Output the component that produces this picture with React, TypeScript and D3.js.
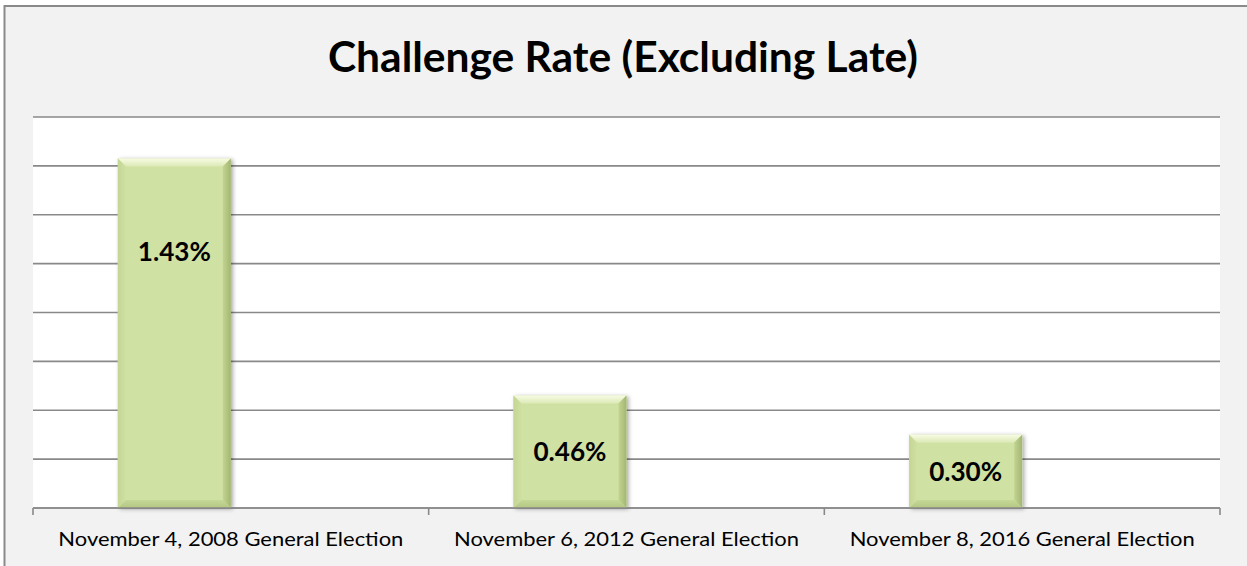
import React, { useEffect } from "react";
import * as d3 from "d3";

// Chart data
const categories = [
  "November 4, 2008 General Election",
  "November 6, 2012 General Election",
  "November 8, 2016 General Election",
];
const rates = [0.0143, 0.0046, 0.003];
const rateLabels = ["1.43%", "0.46%", "0.30%"];
// Excel keeps an empty second series slot, so bars sit left of centre
const seriesSlots = ["rate", "empty"];
const yMax = 0.016;

const W = 1247;
const H = 566;
const plot = { left: 33, right: 1220, top: 117, bottom: 508 };
const GRID = "#898989";
const BEVEL = 8;

export default function App() {
  useEffect(() => {
    document.body.style.margin = "0";
  }, []);

  const x = d3
    .scaleBand<string>()
    .domain(categories)
    .range([plot.left, plot.right])
    .padding(0);

  const slot = d3
    .scaleBand<string>()
    .domain(seriesSlots)
    .range([0, x.bandwidth()])
    .paddingInner(0)
    .paddingOuter(0.75);

  const y = d3.scaleLinear().domain([0, yMax]).range([plot.bottom, plot.top]);
  const gridTicks = y.ticks(8);
  const boundaries = [...categories.map((c) => x(c)!), plot.right];

  const bw = slot.bandwidth();

  return (
    <svg
      width={W}
      height={H}
      style={{ display: "block", fontFamily: "Lato, 'Open Sans', sans-serif" }}
    >
      <defs>
        <linearGradient id="topBevel" x1="0" y1="0" x2="0" y2="1">
          <stop offset="0" stopColor="#f7fbe4" />
          <stop offset="1" stopColor="#dbe9b4" />
        </linearGradient>
        <linearGradient id="rightBevel" x1="0" y1="0" x2="1" y2="0">
          <stop offset="0" stopColor="#c3d490" />
          <stop offset="1" stopColor="#a2b673" />
        </linearGradient>
        <linearGradient id="bottomBevel" x1="0" y1="0" x2="0" y2="1">
          <stop offset="0" stopColor="#c6d796" />
          <stop offset="1" stopColor="#b3c783" />
        </linearGradient>
        <linearGradient id="leftBevel" x1="0" y1="0" x2="1" y2="0">
          <stop offset="0" stopColor="#c4d694" />
          <stop offset="1" stopColor="#cfe0a2" />
        </linearGradient>
        <filter id="shadow" x="-20%" y="-20%" width="140%" height="140%">
          <feDropShadow dx="2" dy="1" stdDeviation="2" floodColor="#000" floodOpacity="0.35" />
        </filter>
      </defs>

      {/* chart area */}
      <rect x={0} y={0} width={W} height={H} fill="#ffffff" />
      <rect
        x={4.5}
        y={6}
        width={W + 20}
        height={H + 20}
        fill="#f2f2f2"
        stroke="#8a8a8a"
        strokeWidth={2}
      />

      {/* title */}
      <text
        x={623}
        y={72}
        textAnchor="middle"
        fontSize={42}
        fontWeight={700}
        fill="#000"
        textLength={590}
        lengthAdjust="spacingAndGlyphs"
      >
        Challenge Rate (Excluding Late)
      </text>

      {/* plot area */}
      <rect
        x={plot.left}
        y={plot.top}
        width={plot.right - plot.left}
        height={plot.bottom - plot.top}
        fill="#ffffff"
      />

      {gridTicks.map((t) => (
        <line
          key={t}
          x1={plot.left}
          x2={plot.right}
          y1={y(t)}
          y2={y(t)}
          stroke={GRID}
          strokeWidth={1.6}
        />
      ))}

      {/* bars */}
      {categories.map((c, i) => {
        const x0 = x(c)! + slot("rate")!;
        const x1 = x0 + bw;
        const y0 = y(rates[i]);
        const y1 = y(0);
        const b = Math.min(BEVEL, (y1 - y0) / 3);
        const center = (y0 + y1) / 2;
        const labelY = Math.min(center, y0 + 93);
        return (
          <g key={c}>
            <rect
              x={x0}
              y={y0}
              width={bw}
              height={y1 - y0}
              fill="#d0e1a4"
              filter="url(#shadow)"
            />
            <polygon
              points={`${x0},${y0} ${x1},${y0} ${x1 - b},${y0 + b} ${x0 + b},${y0 + b}`}
              fill="url(#topBevel)"
            />
            <polygon
              points={`${x1},${y0} ${x1},${y1} ${x1 - b},${y1 - b} ${x1 - b},${y0 + b}`}
              fill="url(#rightBevel)"
            />
            <polygon
              points={`${x0},${y1} ${x1},${y1} ${x1 - b},${y1 - b} ${x0 + b},${y1 - b}`}
              fill="url(#bottomBevel)"
            />
            <polygon
              points={`${x0},${y0} ${x0 + b},${y0 + b} ${x0 + b},${y1 - b} ${x0},${y1}`}
              fill="url(#leftBevel)"
            />
            <text
              x={(x0 + x1) / 2}
              y={labelY}
              dy="0.36em"
              textAnchor="middle"
              fontSize={26}
              fontWeight={700}
              fill="#000"
              textLength={73}
              lengthAdjust="spacingAndGlyphs"
            >
              {rateLabels[i]}
            </text>
          </g>
        );
      })}

      {/* x axis */}
      <line
        x1={plot.left}
        x2={plot.right}
        y1={plot.bottom}
        y2={plot.bottom}
        stroke={GRID}
        strokeWidth={1.6}
      />
      {boundaries.map((bx, i) => (
        <line
          key={i}
          x1={bx}
          x2={bx}
          y1={plot.bottom}
          y2={plot.bottom + 7}
          stroke={GRID}
          strokeWidth={1.6}
        />
      ))}
      {categories.map((c) => (
        <text
          key={c}
          x={x(c)! + x.bandwidth() / 2}
          y={546}
          textAnchor="middle"
          fontSize={19}
          fill="#000"
          textLength={345}
          lengthAdjust="spacingAndGlyphs"
        >
          {c}
        </text>
      ))}
    </svg>
  );
}
